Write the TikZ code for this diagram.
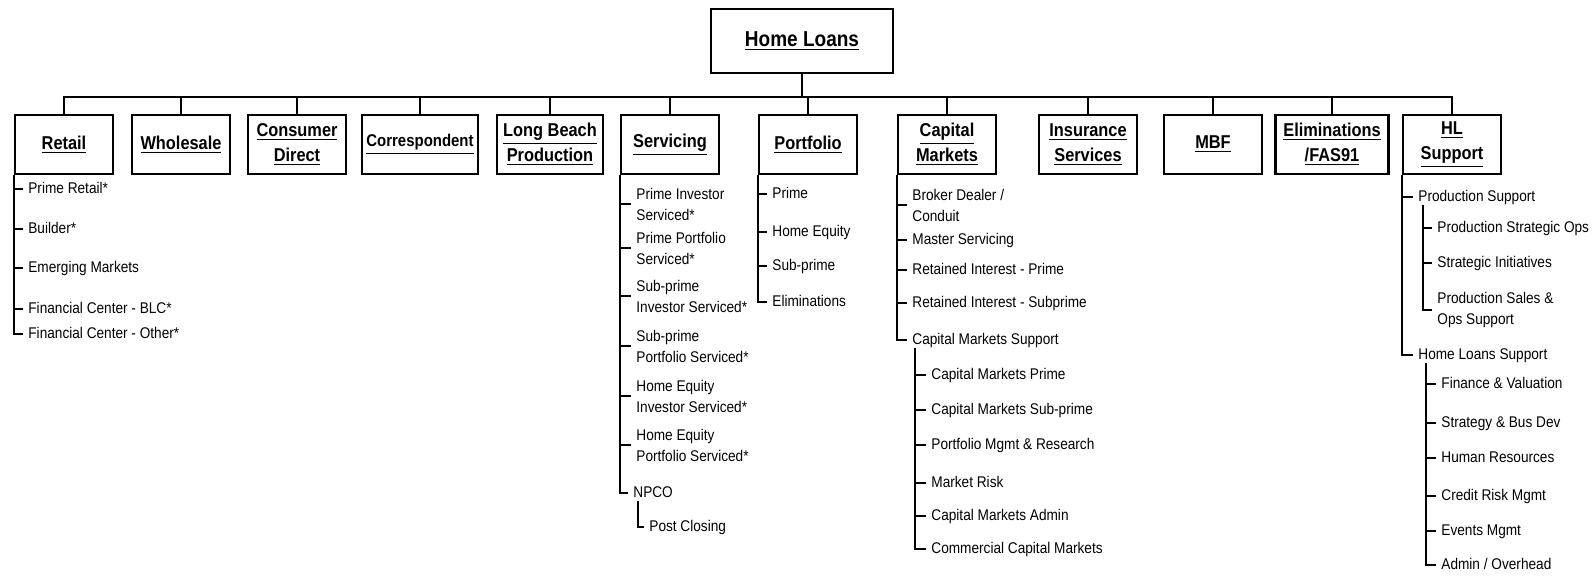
\documentclass[tikz,border=0pt]{standalone}
\usepackage{fontspec}
\usetikzlibrary{positioning}
\newfontfamily\orgfont{Liberation Sans}[FakeStretch=0.88]
\newcommand{\uln}[1]{\underline{#1}}

\begin{document}
\begin{tikzpicture}[
    x=0.5pt, y=-0.5pt,
    unit/.style={rectangle, draw, line width=1.1pt, minimum width=49pt, minimum height=29.5pt, inner xsep=2pt, align=center, font=\orgfont\bfseries\fontsize{9.3}{12.5}\selectfont},
    head/.style={unit, minimum width=91pt, minimum height=32pt, font=\orgfont\bfseries\fontsize{10.8}{13}\selectfont},
    item/.style={anchor=west, inner xsep=2.5pt, inner ysep=0pt, text height=5.8pt, text depth=1.5pt, font=\orgfont\fontsize{7.75}{10.5}\selectfont},
    item2/.style={anchor=west, inner xsep=2.5pt, inner ysep=0pt, align=left, font=\orgfont\fontsize{7.75}{10.5}\selectfont},
    link/.style={line width=1pt}
]
\useasboundingbox (0,0) rectangle (1593,575);

% Head
\node[head] (hl) at (802,41) {\uln{Home Loans}};
\coordinate (bus) at (0,97);

% Business units
\node[unit] (retail) at (64,144.5) {\uln{Retail}};
\node[unit] (whole) at (181,144.5) {\uln{Wholesale}};
\node[unit] (consumer) at (297,144.5) {\uln{Consumer}\\\uln{Direct}};
\node[unit, minimum width=58pt, font=\orgfont\bfseries\fontsize{8.5}{12}\selectfont] (corr) at (420,144.5) {\uln{Correspondent}};
\node[unit, minimum width=53pt] (lbp) at (550,144.5) {\uln{Long Beach}\\\uln{Production}};
\node[unit] (serv) at (670,144.5) {\uln{Servicing}};
\node[unit] (port) at (808,144.5) {\uln{Portfolio}};
\node[unit] (capm) at (947,144.5) {\uln{Capital}\\\uln{Markets}};
\node[unit] (ins) at (1088,144.5) {\uln{Insurance}\\\uln{Services}};
\node[unit] (mbf) at (1213,144.5) {\uln{MBF}};
\node[unit, minimum width=56.5pt] (elim) at (1332,144.5) {\uln{Eliminations}\\\uln{/FAS91}};
\node[unit] (hlsup) at (1452,144.5) {\uln{HL}\\\uln{Support}};

% Bus
\draw[link] (retail.north) -- (retail.north |- bus) -- (hlsup.north |- bus) -- (hlsup.north);
\draw[link] (hl.south) -- (hl.south |- bus);
\draw[link] (whole.north) -- (whole.north |- bus);
\draw[link] (consumer.north) -- (consumer.north |- bus);
\draw[link] (corr.north) -- (corr.north |- bus);
\draw[link] (lbp.north) -- (lbp.north |- bus);
\draw[link] (serv.north) -- (serv.north |- bus);
\draw[link] (port.north) -- (port.north |- bus);
\draw[link] (capm.north) -- (capm.north |- bus);
\draw[link] (ins.north) -- (ins.north |- bus);
\draw[link] (mbf.north) -- (mbf.north |- bus);
\draw[link] (elim.north) -- (elim.north |- bus);

% Retail
\node[item] (ret1) at (23,189) {Prime Retail*};
\node[item] (ret2) at (23,229) {Builder*};
\node[item] (ret3) at (23,268) {Emerging Markets};
\node[item] (ret4) at (23,309) {Financial Center - BLC*};
\node[item] (ret5) at (23,334) {Financial Center - Other*};
\draw[link] (retail.south west) |- (ret5.west);
\draw[link] (ret1.west -| retail.west) -- (ret1.west);
\draw[link] (ret2.west -| retail.west) -- (ret2.west);
\draw[link] (ret3.west -| retail.west) -- (ret3.west);
\draw[link] (ret4.west -| retail.west) -- (ret4.west);

% Servicing
\node[item2] (srv1) at (631,204) {Prime Investor\\Serviced*};
\node[item2] (srv2) at (631,248) {Prime Portfolio\\Serviced*};
\node[item2] (srv3) at (631,296) {Sub-prime\\Investor Serviced*};
\node[item2] (srv4) at (631,346) {Sub-prime\\Portfolio Serviced*};
\node[item2] (srv5) at (631,396) {Home Equity\\Investor Serviced*};
\node[item2] (srv6) at (631,445) {Home Equity\\Portfolio Serviced*};
\node[item] (npco) at (628,493) {NPCO};
\node[item] (post) at (644,527) {Post Closing};
\coordinate (npcov) at ([xshift=5pt]npco.south west);
\draw[link] (serv.south west) |- (npco.west);
\draw[link] (srv1.west -| serv.west) -- (srv1.west);
\draw[link] (srv2.west -| serv.west) -- (srv2.west);
\draw[link] (srv3.west -| serv.west) -- (srv3.west);
\draw[link] (srv4.west -| serv.west) -- (srv4.west);
\draw[link] (srv5.west -| serv.west) -- (srv5.west);
\draw[link] (srv6.west -| serv.west) -- (srv6.west);
\draw[link] (npcov) |- (post.west);

% Portfolio
\node[item] (prt1) at (767,194) {Prime};
\node[item] (prt2) at (767,232) {Home Equity};
\node[item] (prt3) at (767,266) {Sub-prime};
\node[item] (prt4) at (767,302) {Eliminations};
\draw[link] (port.south west) |- (prt4.west);
\draw[link] (prt1.west -| port.west) -- (prt1.west);
\draw[link] (prt2.west -| port.west) -- (prt2.west);
\draw[link] (prt3.west -| port.west) -- (prt3.west);

% Capital Markets
\node[item2] (cap1) at (907,205) {Broker Dealer /\\Conduit};
\node[item] (cap2) at (907,240) {Master Servicing};
\node[item] (cap3) at (907,270) {Retained Interest - Prime};
\node[item] (cap4) at (907,303) {Retained Interest - Subprime};
\node[item] (cms) at (907,340) {Capital Markets Support};
\draw[link] (capm.south west) |- (cms.west);
\draw[link] (cap1.west -| capm.west) -- (cap1.west);
\draw[link] (cap2.west -| capm.west) -- (cap2.west);
\draw[link] (cap3.west -| capm.west) -- (cap3.west);
\draw[link] (cap4.west -| capm.west) -- (cap4.west);

\node[item] (cms1) at (926,375) {Capital Markets Prime};
\node[item] (cms2) at (926,410) {Capital Markets Sub-prime};
\node[item] (cms3) at (926,445) {Portfolio Mgmt \& Research};
\node[item] (cms4) at (926,483) {Market Risk};
\node[item] (cms5) at (926,516) {Capital Markets Admin};
\node[item] (cms6) at (926,549) {Commercial Capital Markets};
\coordinate (cmsv) at ([xshift=4pt]cms.south west);
\draw[link] (cmsv) |- (cms6.west);
\draw[link] (cms1.west -| cmsv) -- (cms1.west);
\draw[link] (cms2.west -| cmsv) -- (cms2.west);
\draw[link] (cms3.west -| cmsv) -- (cms3.west);
\draw[link] (cms4.west -| cmsv) -- (cms4.west);
\draw[link] (cms5.west -| cmsv) -- (cms5.west);

% HL Support
\node[item] (ps) at (1413,197) {Production Support};
\node[item] (hls) at (1413,355) {Home Loans Support};
\draw[link] (hlsup.south west) |- (hls.west);
\draw[link] (ps.west -| hlsup.west) -- (ps.west);

\node[item] (ps1) at (1432,228) {Production Strategic Ops};
\node[item] (ps2) at (1432,263) {Strategic Initiatives};
\node[item2] (ps3) at (1432,310) {Production Sales \&\\Ops Support};
\coordinate (psv) at ([xshift=5pt]ps.south west);
\draw[link] (psv) |- (ps3.west);
\draw[link] (ps1.west -| psv) -- (ps1.west);
\draw[link] (ps2.west -| psv) -- (ps2.west);

\node[item] (hls1) at (1436,384) {Finance \& Valuation};
\node[item] (hls2) at (1436,423) {Strategy \& Bus Dev};
\node[item] (hls3) at (1436,458) {Human Resources};
\node[item] (hls4) at (1436,496) {Credit Risk Mgmt};
\node[item] (hls5) at (1436,531) {Events Mgmt};
\node[item] (hls6) at (1436,565) {Admin / Overhead};
\coordinate (hlsv) at ([xshift=6.5pt]hls.south west);
\draw[link] (hlsv) |- (hls6.west);
\draw[link] (hls1.west -| hlsv) -- (hls1.west);
\draw[link] (hls2.west -| hlsv) -- (hls2.west);
\draw[link] (hls3.west -| hlsv) -- (hls3.west);
\draw[link] (hls4.west -| hlsv) -- (hls4.west);
\draw[link] (hls5.west -| hlsv) -- (hls5.west);

\end{tikzpicture}
\end{document}
